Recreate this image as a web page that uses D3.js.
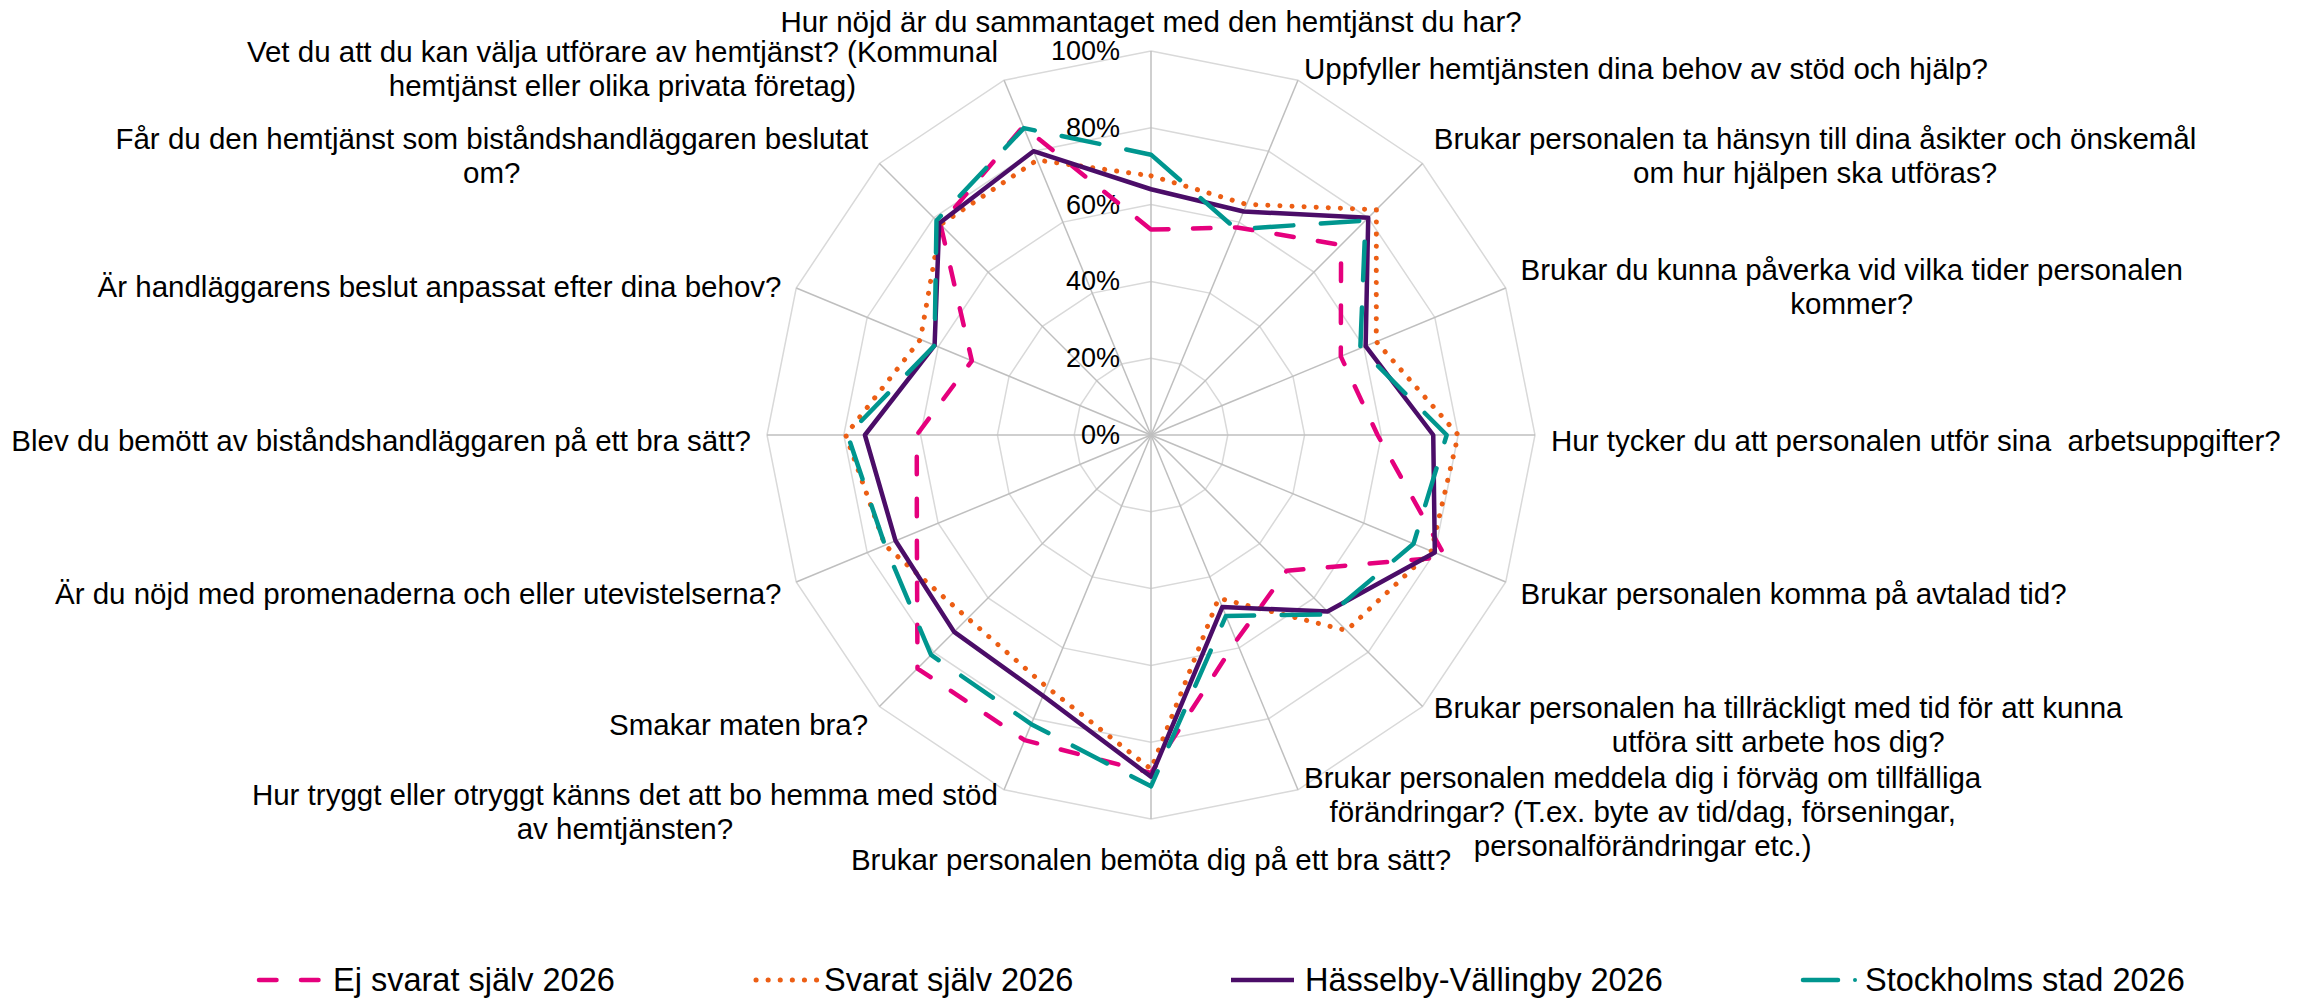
<!DOCTYPE html>
<meta charset="utf-8">
<style>
body {
  margin: 0;
  background-color: #ffffff;
}
text {
  font-family: "Liberation Sans", Arial, sans-serif;
  fill: #000000;
  white-space: pre;
}
</style>
<body>
<div id="chart"></div>
<script src="https://d3js.org/d3.v7.min.js"></script>
<script>

var width = 2305,
    height = 1001,
    cx = 1151,
    cy = 435,
    radius = 384;

// questions, clockwise from the top (already wrapped as in the original)
var questions = [
  ["Hur nöjd är du sammantaget med den hemtjänst du har?"],
  ["Uppfyller hemtjänsten dina behov av stöd och hjälp?"],
  ["Brukar personalen ta hänsyn till dina åsikter och önskemål", "om hur hjälpen ska utföras?"],
  ["Brukar du kunna påverka vid vilka tider personalen", "kommer?"],
  ["Hur tycker du att personalen utför sina  arbetsuppgifter?"],
  ["Brukar personalen komma på avtalad tid?"],
  ["Brukar personalen ha tillräckligt med tid för att kunna", "utföra sitt arbete hos dig?"],
  ["Brukar personalen meddela dig i förväg om tillfälliga", "förändringar? (T.ex. byte av tid/dag, förseningar,", "personalförändringar etc.)"],
  ["Brukar personalen bemöta dig på ett bra sätt?"],
  ["Hur tryggt eller otryggt känns det att bo hemma med stöd", "av hemtjänsten?"],
  ["Smakar maten bra?"],
  ["Är du nöjd med promenaderna och eller utevistelserna?"],
  ["Blev du bemött av biståndshandläggaren på ett bra sätt?"],
  ["Är handläggarens beslut anpassat efter dina behov?"],
  ["Får du den hemtjänst som biståndshandläggaren beslutat", "om?"],
  ["Vet du att du kan välja utförare av hemtjänst? (Kommunal", "hemtjänst eller olika privata företag)"]
];

// percent values, same order as questions
var ejSvarat  = [53.5, 58.5, 70, 53.5, 59, 83, 50, 58, 88, 86, 86, 66, 61, 50.5, 77.5, 87];
var svarat    = [67.5, 65, 83, 63.5, 80, 79, 72, 46, 87, 71, 67.5, 75, 79.5, 65, 77.5, 77.5];
var hasselby  = [64, 63, 80, 60.5, 73.5, 80, 65, 48.5, 89, 73.5, 72.5, 72, 74.5, 61, 78, 80];
var stockholm = [73, 58, 79, 59, 77, 74, 66, 51, 91.5, 81.5, 81, 75, 79, 61, 79, 86.5];

var seriesNames = ["Ej svarat själv 2026", "Svarat själv 2026", "Hässelby-Vällingby 2026", "Stockholms stad 2026"];
var tickValues = [0, 20, 40, 60, 80, 100];

var series = [
  {name: seriesNames[0], values: ejSvarat,  color: "#e5007d", dash: "17.5,24.5", width: 4.5},
  {name: seriesNames[1], values: svarat,    color: "#ec5e14", dash: "0.1,12",    width: 5},
  {name: seriesNames[2], values: hasselby,  color: "#4b0d68", dash: null,        width: 4.5},
  {name: seriesNames[3], values: stockholm, color: "#00968f", dash: "38.5,27.5", width: 4.5}
];

var n = questions.length;

var angle = d3.scaleLinear().domain([0, n]).range([0, 2 * Math.PI]);
var r = d3.scaleLinear().domain([0, 100]).range([0, radius]);

var svg = d3.select("#chart")
  .append("svg")
    .attr("width", width)
    .attr("height", height);

svg.append("rect")
  .attr("width", width)
  .attr("height", height)
  .attr("fill", "#ffffff");

var g = svg.append("g")
  .attr("transform", "translate(" + cx + "," + cy + ")");

var radial = d3.lineRadial()
  .angle(function(d, i) { return angle(i); })
  .radius(function(d) { return r(d); })
  .curve(d3.curveLinearClosed);

// rings
g.append("g").attr("class", "rings")
  .selectAll("path")
  .data(tickValues.filter(function(t) { return t > 0; }))
  .enter().append("path")
    .attr("d", function(t) { return radial(d3.range(n).map(function() { return t; })); })
    .attr("fill", "none")
    .attr("stroke", "#d9d9d9")
    .attr("stroke-width", 1.5);

// spokes
g.append("g").attr("class", "spokes")
  .selectAll("line")
  .data(d3.range(n))
  .enter().append("line")
    .attr("x1", 0).attr("y1", 0)
    .attr("x2", function(i) { return r(100) * Math.sin(angle(i)); })
    .attr("y2", function(i) { return -r(100) * Math.cos(angle(i)); })
    .attr("stroke", "#bfbfbf")
    .attr("stroke-width", 1.5);

// tick labels
g.append("g").attr("class", "ticks")
  .selectAll("text")
  .data(tickValues)
  .enter().append("text")
    .attr("x", -31)
    .attr("y", function(t) { return -r(t); })
    .attr("text-anchor", "end")
    .attr("dominant-baseline", "central")
    .style("font-size", "27px")
    .text(function(t) { return t + "%"; });

// series
g.append("g").attr("class", "series")
  .selectAll("path")
  .data(series)
  .enter().append("path")
    .attr("d", function(s) { return radial(s.values); })
    .attr("fill", "none")
    .attr("stroke", function(s) { return s.color; })
    .attr("stroke-width", function(s) { return s.width; })
    .attr("stroke-dasharray", function(s) { return s.dash; })
    .attr("stroke-linecap", function(s) { return s.dash ? "round" : "butt"; })
    .attr("stroke-linejoin", "round");

// category labels
var lineH = 34;
var labels = g.append("g").attr("class", "labels");
questions.forEach(function(lines, i) {
  var a = angle(i);
  var sx = Math.sin(a), cyv = Math.cos(a);
  var px = (radius + 16) * sx;
  var py = -(radius + 18) * cyv + 5;
  var grp = labels.append("g");
  var texts = grp.selectAll("text")
    .data(lines)
    .enter().append("text")
      .attr("text-anchor", "middle")
      .attr("dominant-baseline", "central")
      .style("font-size", "29.5px")
      .text(function(d) { return d; });
  var w = 0;
  texts.each(function() { w = Math.max(w, this.getComputedTextLength()); });
  var boxH = lines.length * lineH;
  var left, midY;
  if (Math.abs(sx) < 0.01) {
    left = px - w / 2;
    midY = cyv > 0 ? py - boxH / 2 : py + boxH / 2;
  } else if (sx > 0) {
    left = px;
    midY = py;
  } else {
    left = px - w;
    midY = py;
  }
  texts
    .attr("x", left + w / 2)
    .attr("y", function(d, j) { return midY + (j - (lines.length - 1) / 2) * lineH; });
});

// legend
var legendX = [259, 756, 1231, 1803];
var legendY = 980;
var legend = svg.append("g").attr("class", "legend")
  .selectAll("g")
  .data(series)
  .enter().append("g")
    .attr("transform", function(s, i) { return "translate(" + legendX[i] + "," + legendY + ")"; });

legend.append("line")
  .attr("x1", 0)
  .attr("x2", function(s, i) { return i === 3 ? 35 : (i === 1 ? 61 : 63); })
  .attr("y1", 0).attr("y2", 0)
  .attr("stroke", function(s) { return s.color; })
  .attr("stroke-width", function(s) { return s.width; })
  .attr("stroke-dasharray", function(s) { return s.dash; })
  .attr("stroke-linecap", function(s) { return s.dash ? "round" : "butt"; });

legend.filter(function(s, i) { return i === 3; })
  .append("circle")
  .attr("cx", 52).attr("cy", 0).attr("r", 2)
  .attr("fill", function(s) { return s.color; });

legend.append("text")
  .attr("x", function(s, i) { return i === 3 ? 62 : (i === 1 ? 68 : 74); })
  .attr("y", 0)
  .attr("dominant-baseline", "central")
  .style("font-size", "32.5px")
  .text(function(s) { return s.name; });

</script>
</body>
